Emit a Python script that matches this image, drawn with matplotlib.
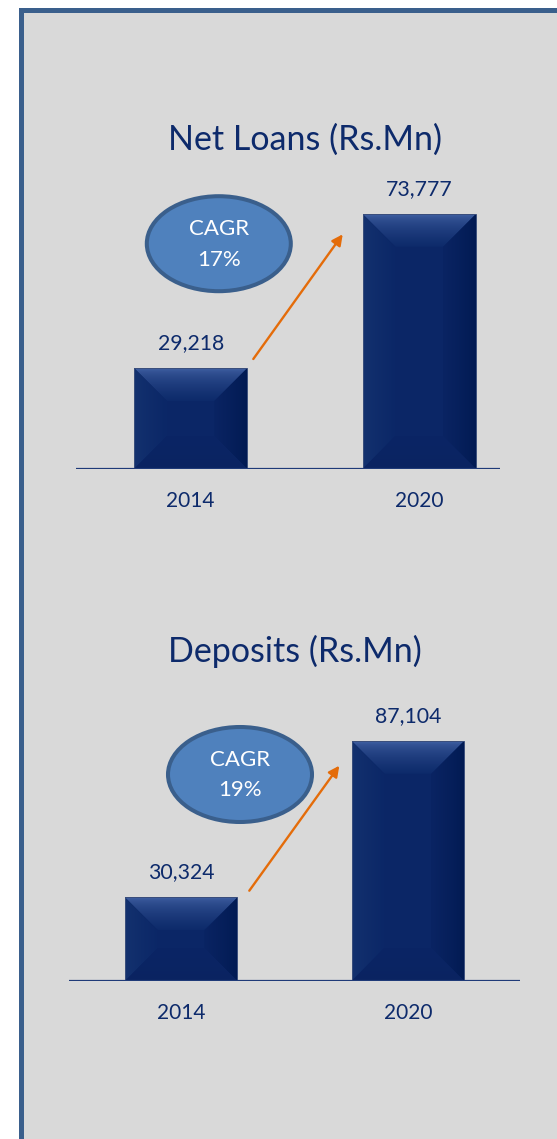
import numpy as np
import matplotlib
matplotlib.use("Agg")
import matplotlib.pyplot as plt
from matplotlib.patches import Rectangle, Ellipse, Polygon, FancyArrowPatch
from matplotlib.colors import to_rgb

plt.rcParams['font.family'] = ['Lato', 'DejaVu Sans']

# ---- data ----
years = ['2014', '2020']
net_loans = [29218, 73777]
deposits = [30324, 87104]
loan_cagr = '17%'
deposit_cagr = '19%'
loan_title = 'Net Loans (Rs.Mn)'
deposit_title = 'Deposits (Rs.Mn)'

W, H = 557, 1139
fig = plt.figure(figsize=(W / 100, H / 100), dpi=100)
fig.patch.set_facecolor('white')

def fx(x):
    return x / W

def fy(y):
    return 1 - y / H

NAVY = '#0d2a6b'
BAR = '#0b2666'

# outer panel
fig.patches.append(Rectangle((fx(20.5), fy(1300)), 2, (1300 - 9.5) / H,
                             transform=fig.transFigure, facecolor='#d9d9d9',
                             edgecolor='#3a5f8c', linewidth=3.6, zorder=-5))


def grad_fill(ax, poly, c_from, c_to, direction, power=1.0):
    xs = [p[0] for p in poly]
    ys = [p[1] for p in poly]
    n = 64
    t = np.linspace(0, 1, n) ** power
    a = np.array(to_rgb(c_from))
    b = np.array(to_rgb(c_to))
    cols = a[None, :] * (1 - t[:, None]) + b[None, :] * t[:, None]
    if direction == 'down':      # c_from at top
        img = cols[:, None, :]
        origin = 'upper'
    elif direction == 'up':      # c_from at bottom
        img = cols[:, None, :]
        origin = 'lower'
    elif direction == 'right':   # c_from at left
        img = cols[None, :, :]
        origin = 'upper'
    else:                        # 'left': c_from at right
        img = cols[::-1][None, :, :]
        origin = 'upper'
    patch = Polygon(poly, closed=True, facecolor='none', edgecolor='none',
                    transform=ax.transData)
    ax.add_patch(patch)
    im = ax.imshow(img, extent=(min(xs), max(xs), min(ys), max(ys)),
                   origin=origin, aspect='auto', interpolation='bilinear',
                   zorder=3)
    im.set_clip_path(patch)


def bevel(ax, bar, depth_px=33):
    x0, y0 = bar.get_x(), bar.get_y()
    x1, y1 = x0 + bar.get_width(), y0 + bar.get_height()
    xl, yl = ax.get_xlim(), ax.get_ylim()
    dxd = (xl[1] - xl[0]) / ax.bbox.width
    dyd = (yl[1] - yl[0]) / ax.bbox.height
    wpx = bar.get_width() / dxd
    hpx = bar.get_height() / dyd
    d = min(depth_px, wpx / 2, hpx / 2)
    dx, dy = d * dxd, d * dyd
    top = [(x0, y1), (x1, y1), (x1 - dx, y1 - dy), (x0 + dx, y1 - dy)]
    bot = [(x0, y0), (x1, y0), (x1 - dx, y0 + dy), (x0 + dx, y0 + dy)]
    left = [(x0, y0), (x0, y1), (x0 + dx, y1 - dy), (x0 + dx, y0 + dy)]
    right = [(x1, y0), (x1, y1), (x1 - dx, y1 - dy), (x1 - dx, y0 + dy)]
    grad_fill(ax, top, '#4767aa', '#0d2a6a', 'down', power=0.5)
    grad_fill(ax, left, '#14326f', '#0b2767', 'right', power=0.8)
    grad_fill(ax, right, '#011a52', '#0a2463', 'left', power=0.8)
    grad_fill(ax, bot, '#0a2360', '#0b2565', 'up', power=0.6)
    ax.add_patch(Rectangle((x0, y0), x1 - x0, y1 - y0, facecolor='none',
                           edgecolor='#3b4f7c', linewidth=0.7, zorder=4))


def panel(left, right, base, top, xlim, ylim_top, values, cagr, title,
          title_xy, ell_xy, arrow_from, arrow_to, label_off_px):
    ax = fig.add_axes([fx(left), fy(base), (right - left) / W, (base - top) / H])
    ax.patch.set_visible(False)
    ax.set_xlim(*xlim)
    ax.set_ylim(0, ylim_top)
    for s in ax.spines.values():
        s.set_visible(False)
    ax.set_yticks([])
    xpos = np.arange(len(years))
    bars = ax.bar(xpos, values, width=0.496, color=BAR, zorder=2)
    for b in bars:
        bevel(ax, b)
    ax.axhline(0, color='#1f3a78', linewidth=1.6, zorder=5)
    ax.set_xticks(xpos)
    ax.set_xticklabels(years, fontsize=15, color=NAVY)
    ax.tick_params(axis='x', length=0, pad=16)
    for x, v in zip(xpos, values):
        ax.annotate(f'{v:,}', (x, v), xytext=(0, label_off_px * 0.72),
                    textcoords='offset points', ha='center', va='center',
                    fontsize=15.3, color=NAVY)
    fig.text(fx(title_xy[0]), fy(title_xy[1]), title, ha='center', va='center',
             fontsize=24.5, color=NAVY)
    fig.patches.append(Ellipse((fx(ell_xy[0]), fy(ell_xy[1])), 144 / W, 95 / H,
                               transform=fig.transFigure, facecolor='#4f81bd',
                               edgecolor='#3a5f8c', linewidth=2.9, zorder=6))
    fig.text(fx(ell_xy[0]), fy(ell_xy[1] - 15), 'CAGR', ha='center', va='center',
             fontsize=16, color='white', zorder=7)
    fig.text(fx(ell_xy[0]), fy(ell_xy[1] + 16), cagr, ha='center', va='center',
             fontsize=16, color='white', zorder=7)
    fig.add_artist(FancyArrowPatch(
        (fx(arrow_from[0]), fy(arrow_from[1])), (fx(arrow_to[0]), fy(arrow_to[1])),
        transform=fig.transFigure, arrowstyle='-|>', mutation_scale=16,
        color='#e46c0a', linewidth=1.7, shrinkA=0, shrinkB=0, zorder=8))
    return ax


panel(76, 500, 469, 120, (-0.5017, 1.353), 349 * 289.3, net_loans, loan_cagr,
      loan_title, (305, 140), (218.8, 243.7), (253.3, 359), (342.7, 234.3), 25)
panel(69, 520, 981, 630, (-0.495, 1.4945), 351 * 362.9, deposits, deposit_cagr,
      deposit_title, (295, 651), (240, 774.5), (249.3, 890.7), (339.3, 765.7), 25)

fig.savefig('out.png', dpi=100, facecolor='white')
